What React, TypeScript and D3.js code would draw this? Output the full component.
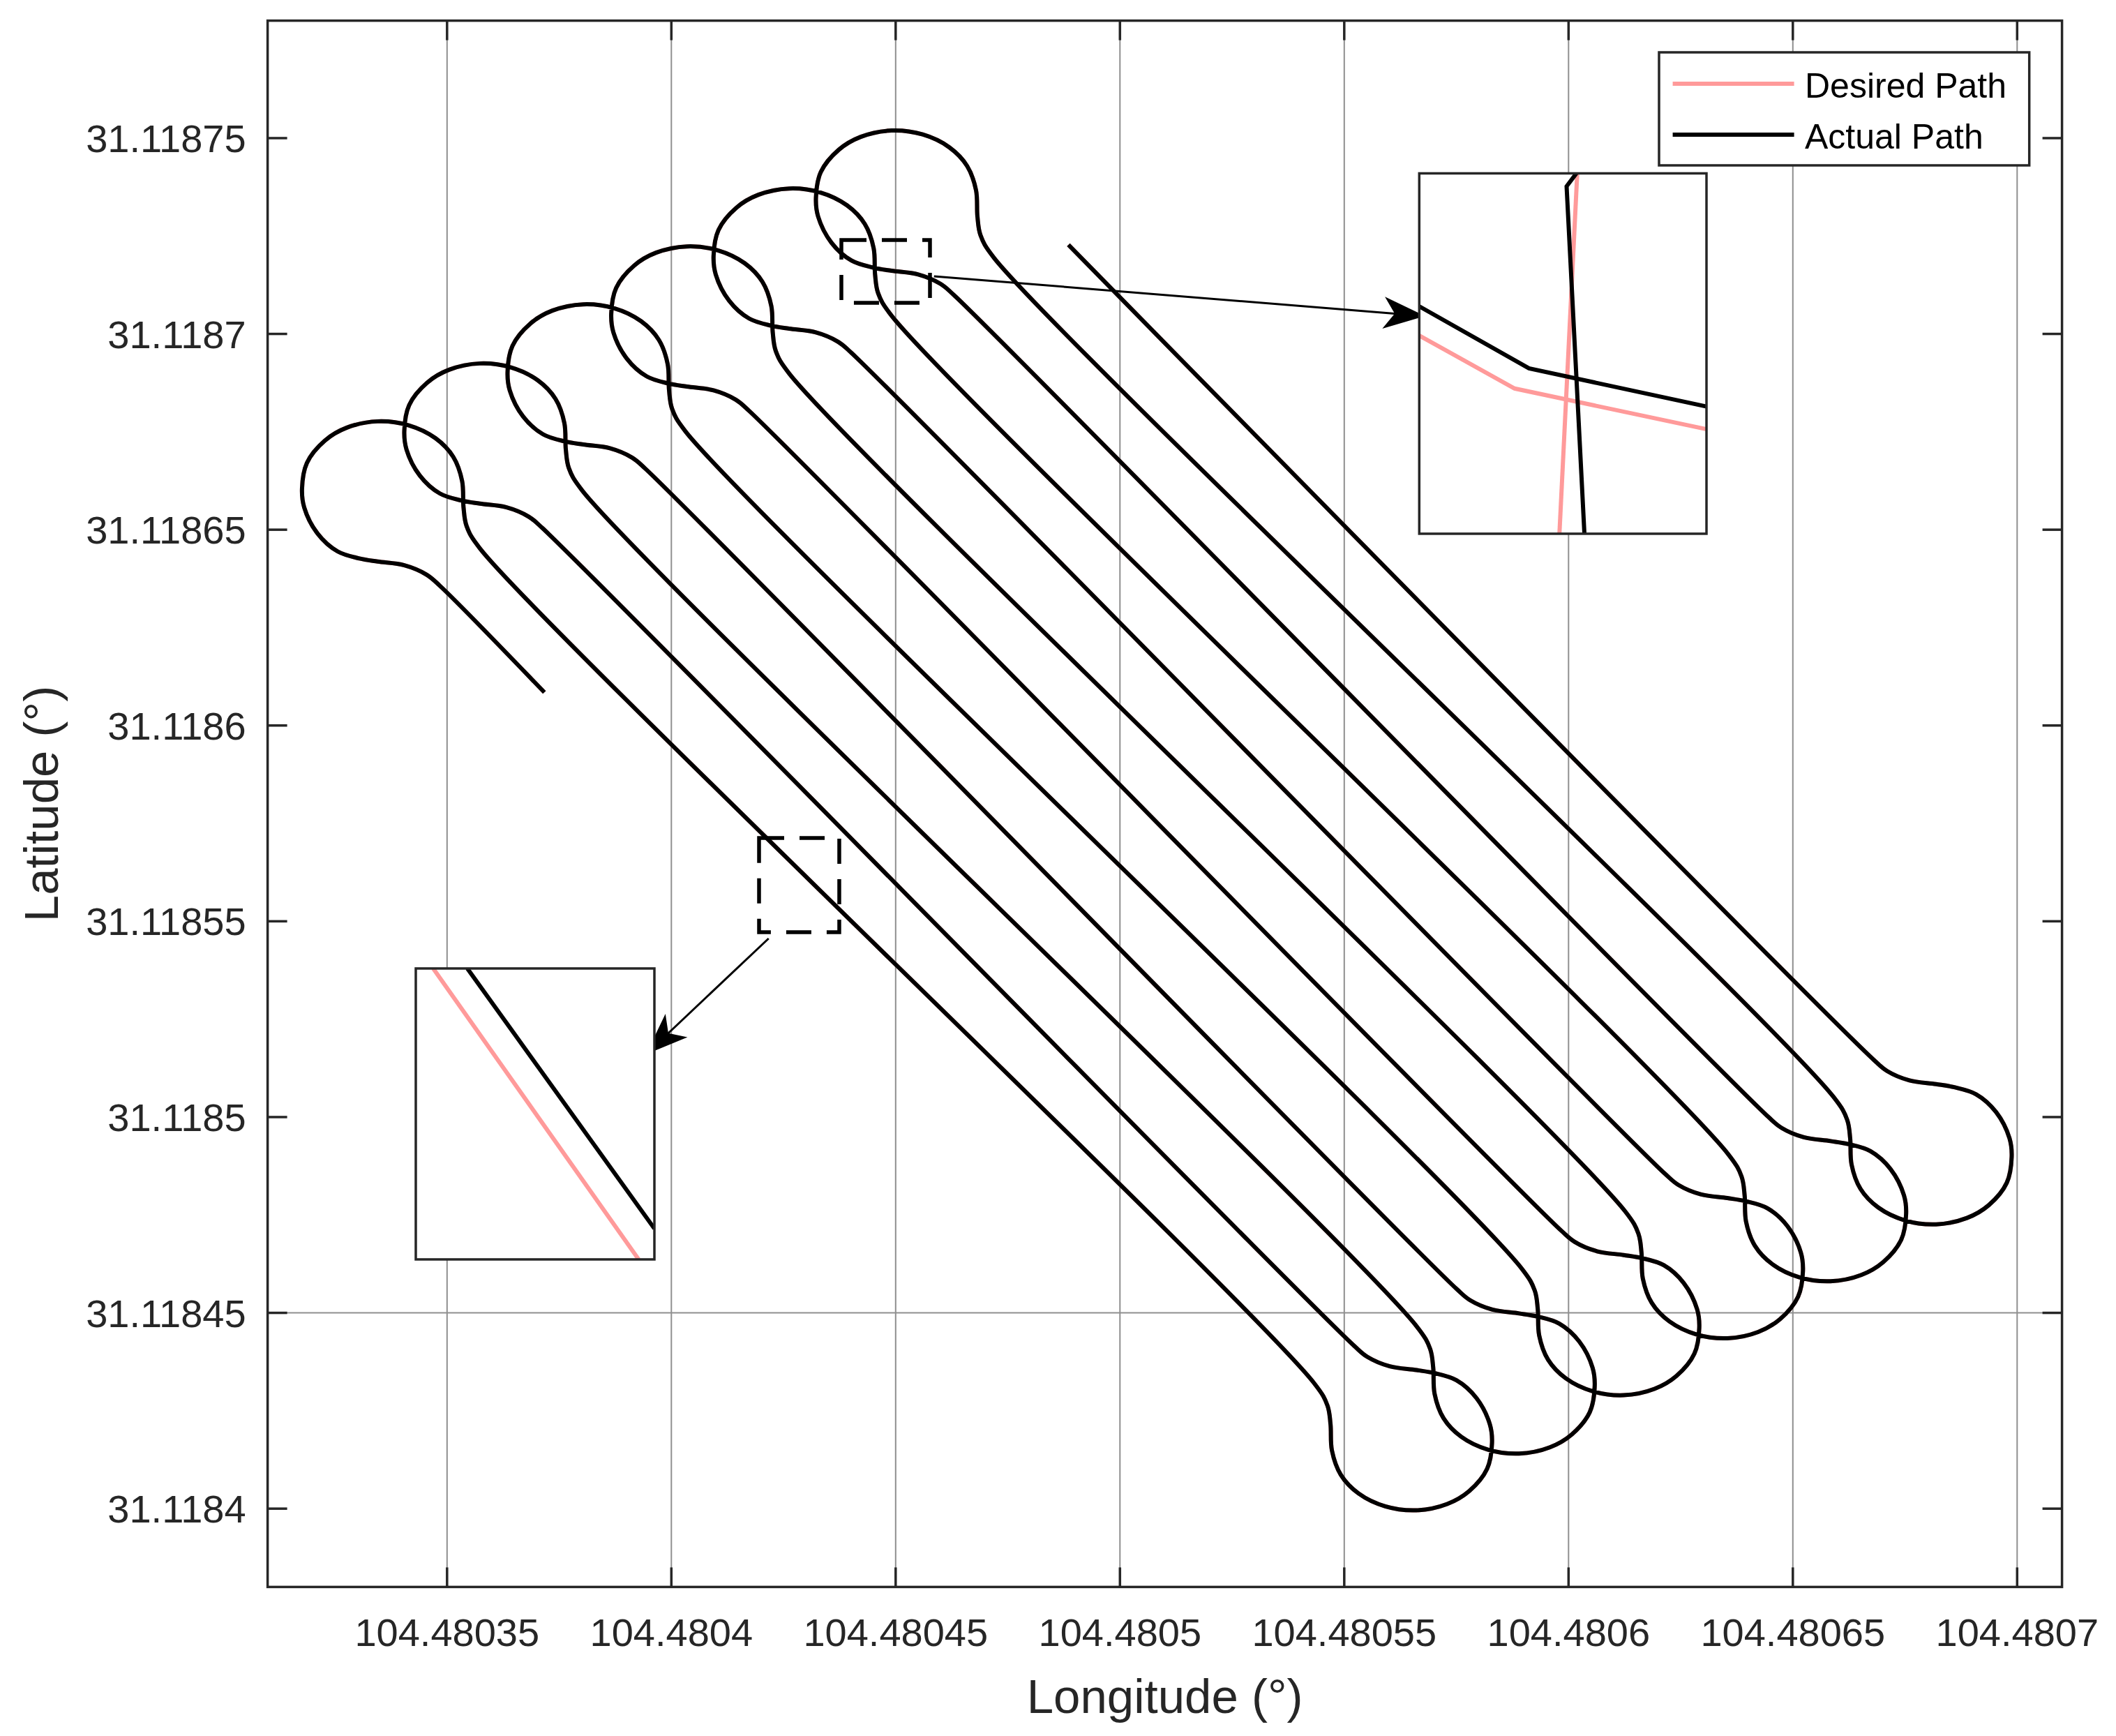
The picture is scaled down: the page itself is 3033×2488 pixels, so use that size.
import React from 'react';
import * as d3 from 'd3';

// ---------------- data ----------------
const lonDomain = [104.48031, 104.48071];
const latDomain = [31.11838, 31.11878];
const lonTicks = [104.48035, 104.4804, 104.48045, 104.4805, 104.48055, 104.4806, 104.48065, 104.4807];
const latTicks = [31.1184, 31.11845, 31.1185, 31.11855, 31.1186, 31.11865, 31.1187, 31.11875];
const latGridLines = [31.11845];

// shape of one keyhole turn, offsets from the turn-circle centre in micro-degrees [dLon, dLat]
const turnShape = [
  [12.75, -24.09], [9.77, -21.24], [4.81, -18.85], [-1.14, -17.89], [-5.2, -17.1],
  [-10.06, -15.3], [-14.53, -10.73], [-17.51, -4.04], [-17.99, 0.71], [-16.9, 7.3],
  [-12.9, 13.0], [-8.0, 16.3], [-1.14, 17.91], [5.8, 16.9], [11.76, 13.61],
  [15.72, 8.84], [17.7, 2.64], [18.01, -4.04], [18.69, -8.82], [21.68, -14.56],
];
// turn-circle centres [lon, lat] at the north-west end of the field
const westTurnCentres = [
  [104.48033566, 31.11865976],
  [104.48035846, 31.11867455],
  [104.48038148, 31.11868965],
  [104.48040459, 31.11870444],
  [104.4804274, 31.11871923],
  [104.48045022, 31.11873403],
];
// turn-circle centres [lon, lat] at the south-east end of the field
const eastTurnCentres = [
  [104.48056495, 31.1184175],
  [104.48058784, 31.11843197],
  [104.48061115, 31.11844688],
  [104.48063426, 31.11846142],
  [104.48065726, 31.11847598],
  [104.48068079, 31.11849052],
];
const pathStart = [104.4803717, 31.11860846];
const pathEnd = [104.48048851, 31.11872275];

// zoom windows (dashed) and inset panels, [lon0, lat0, lon1, lat1]
const zoomWindows = [
  [104.4804379, 31.11872398, 104.48045765, 31.11870795],
  [104.48041955, 31.11857127, 104.48043743, 31.11854722],
];
const insetPanels = [
  [104.48056672, 31.118741, 104.48063075, 31.11864897],
  [104.48034303, 31.11853795, 104.48039622, 31.11846365],
];
// arrows [fromLon, fromLat, toLon, toLat]
const arrows = [
  [104.48045855, 31.11871472, 104.48056807, 31.11870456],
  [104.48042168, 31.11854561, 104.48039435, 31.11851604],
];
// inset contents, inset-local units (0..1, y up)
const insetDesired = [
  [[[0, 0.55], [0.332, 0.403], [1, 0.29]], [[0.55, 1], [0.488, 0]]],
  [[[0.073, 1], [0.934, 0]]],
];
const insetActual = [
  [[[0, 0.631], [0.382, 0.459], [1, 0.353]], [[0.547, 1], [0.513, 0.964], [0.575, 0]]],
  [[[0.216, 1], [1, 0.106]]],
];
const legendLabels = ['Desired Path', 'Actual Path'];

// ---------------- styles ----------------
const PINK = '#ff9a9a';
const BLACK = '#000000';
const AXIS = '#262626';
const FONT = '"Liberation Sans", Arial, Helvetica, sans-serif';

const W = 3033;
const H = 2488;
const PL = 383.6, PR = 2955.6, PT = 29.6, PB = 2274.4;

function buildPath(): number[][] {
  const U = 1e-6;
  const pts: number[][] = [pathStart];
  for (let i = 0; i < westTurnCentres.length; i++) {
    const c = westTurnCentres[i];
    turnShape.forEach(([dx, dy]) => pts.push([c[0] + dx * U, c[1] + dy * U]));
    const e = eastTurnCentres[i];
    const rev = turnShape.map(([dx, dy]) => [e[0] - dx * U, e[1] - dy * U]).reverse();
    rev.forEach((p) => pts.push(p));
  }
  pts.push(pathEnd);
  return pts;
}

export default function App() {
  const x = d3.scaleLinear().domain(lonDomain).range([PL, PR]);
  const y = d3.scaleLinear().domain(latDomain).range([PB, PT]);
  const pts = buildPath();
  const line = d3
    .line<number[]>()
    .x((d) => x(d[0]))
    .y((d) => y(d[1]))
    .curve(d3.curveCatmullRom.alpha(0.5));
  const pathD = line(pts) || '';
  const TL = 28;

  const arrowEls = arrows.map((a, i) => {
    const x0 = x(a[0]), y0 = y(a[1]), x1 = x(a[2]), y1 = y(a[3]);
    const len = Math.hypot(x1 - x0, y1 - y0);
    const ux = (x1 - x0) / len, uy = (y1 - y0) / len;
    const nx = -uy, ny = ux;
    const hl = 60, hw = 23, notch = 44;
    const b1 = [x1 - hl * ux + hw * nx, y1 - hl * uy + hw * ny];
    const b2 = [x1 - hl * ux - hw * nx, y1 - hl * uy - hw * ny];
    const nb = [x1 - notch * ux, y1 - notch * uy];
    return (
      <g key={'ar' + i}>
        <line x1={x0} y1={y0} x2={nb[0]} y2={nb[1]} stroke={BLACK} strokeWidth={3} />
        <polygon points={`${x1},${y1} ${b1[0]},${b1[1]} ${nb[0]},${nb[1]} ${b2[0]},${b2[1]}`} fill={BLACK} />
      </g>
    );
  });

  const insetEls = insetPanels.map((b, i) => {
    const bx0 = x(b[0]), by0 = y(b[1]), bx1 = x(b[2]), by1 = y(b[3]);
    const xi = d3.scaleLinear().domain([0, 1]).range([bx0, bx1]);
    const yi = d3.scaleLinear().domain([0, 1]).range([by1, by0]);
    const l = d3.line<number[]>().x((d) => xi(d[0])).y((d) => yi(d[1]));
    return (
      <g key={'in' + i}>
        <rect x={bx0} y={by0} width={bx1 - bx0} height={by1 - by0} fill="#fff" />
        <clipPath id={'inclip' + i}>
          <rect x={bx0} y={by0} width={bx1 - bx0} height={by1 - by0} />
        </clipPath>
        <g clipPath={`url(#inclip${i})`}>
          {insetDesired[i].map((s, j) => (
            <path key={'d' + j} d={l(s) || ''} fill="none" stroke={PINK} strokeWidth={6} />
          ))}
          {insetActual[i].map((s, j) => (
            <path key={'a' + j} d={l(s) || ''} fill="none" stroke={BLACK} strokeWidth={6} />
          ))}
        </g>
        <rect x={bx0} y={by0} width={bx1 - bx0} height={by1 - by0} fill="none" stroke={AXIS} strokeWidth={3.5} />
      </g>
    );
  });

  return (
    <svg
      width={W}
      height={H}
      viewBox={`0 0 ${W} ${H}`}
      style={{ position: 'absolute', left: 0, top: 0, display: 'block', background: '#fff' }}
    >
      <rect x={0} y={0} width={W} height={H} fill="#fff" />
      <defs>
        <clipPath id="plotclip">
          <rect x={PL} y={PT} width={PR - PL} height={PB - PT} />
        </clipPath>
      </defs>
      {/* grid */}
      {lonTicks.map((t) => (
        <line key={'gx' + t} x1={x(t)} x2={x(t)} y1={PT} y2={PB} stroke="#8f8f8f" strokeWidth={2} />
      ))}
      {latGridLines.map((t) => (
        <line key={'gy' + t} x1={PL} x2={PR} y1={y(t)} y2={y(t)} stroke="#8f8f8f" strokeWidth={2} />
      ))}
      {/* paths */}
      <g clipPath="url(#plotclip)">
        <path d={pathD} fill="none" stroke={PINK} strokeWidth={6} strokeLinejoin="round" />
        <path d={pathD} fill="none" stroke={BLACK} strokeWidth={6} strokeLinejoin="round" />
      </g>
      {/* dashed zoom windows */}
      {zoomWindows.map((b, i) => (
        <rect
          key={'zw' + i}
          x={x(b[0])}
          y={y(b[1])}
          width={x(b[2]) - x(b[0])}
          height={y(b[3]) - y(b[1])}
          fill="none"
          stroke={BLACK}
          strokeWidth={5.5}
          strokeDasharray="36 22"
        />
      ))}
      {arrowEls}
      {insetEls}
      {/* axes box and ticks */}
      <rect x={PL} y={PT} width={PR - PL} height={PB - PT} fill="none" stroke={AXIS} strokeWidth={3.5} />
      {lonTicks.map((t) => (
        <g key={'tx' + t}>
          <line x1={x(t)} x2={x(t)} y1={PB} y2={PB - TL} stroke={AXIS} strokeWidth={3.5} />
          <line x1={x(t)} x2={x(t)} y1={PT} y2={PT + TL} stroke={AXIS} strokeWidth={3.5} />
          <text x={x(t)} y={PB + 85} textAnchor="middle" fontFamily={FONT} fontSize={56} fill={AXIS}>
            {String(t)}
          </text>
        </g>
      ))}
      {latTicks.map((t) => (
        <g key={'ty' + t}>
          <line x1={PL} x2={PL + TL} y1={y(t)} y2={y(t)} stroke={AXIS} strokeWidth={3.5} />
          <line x1={PR} x2={PR - TL} y1={y(t)} y2={y(t)} stroke={AXIS} strokeWidth={3.5} />
          <text x={PL - 31} y={y(t) + 20} textAnchor="end" fontFamily={FONT} fontSize={56} fill={AXIS}>
            {String(t)}
          </text>
        </g>
      ))}
      <text x={(PL + PR) / 2} y={2455} textAnchor="middle" fontFamily={FONT} fontSize={69} fill={AXIS}>
        Longitude (°)
      </text>
      <text
        transform={`translate(83, ${(PT + PB) / 2}) rotate(-90)`}
        textAnchor="middle"
        fontFamily={FONT}
        fontSize={69}
        fill={AXIS}
      >
        Latitude (°)
      </text>
      {/* legend */}
      <g>
        <rect x={2378} y={75} width={530.7} height={162} fill="#fff" stroke={AXIS} strokeWidth={3.5} />
        <line x1={2397.6} x2={2571.6} y1={120} y2={120} stroke={PINK} strokeWidth={6} />
        <line x1={2397.6} x2={2571.6} y1={193} y2={193} stroke={BLACK} strokeWidth={6} />
        <text x={2587} y={140} fontFamily={FONT} fontSize={50} fill={BLACK}>
          {legendLabels[0]}
        </text>
        <text x={2587} y={213} fontFamily={FONT} fontSize={50} fill={BLACK}>
          {legendLabels[1]}
        </text>
      </g>
    </svg>
  );
}
